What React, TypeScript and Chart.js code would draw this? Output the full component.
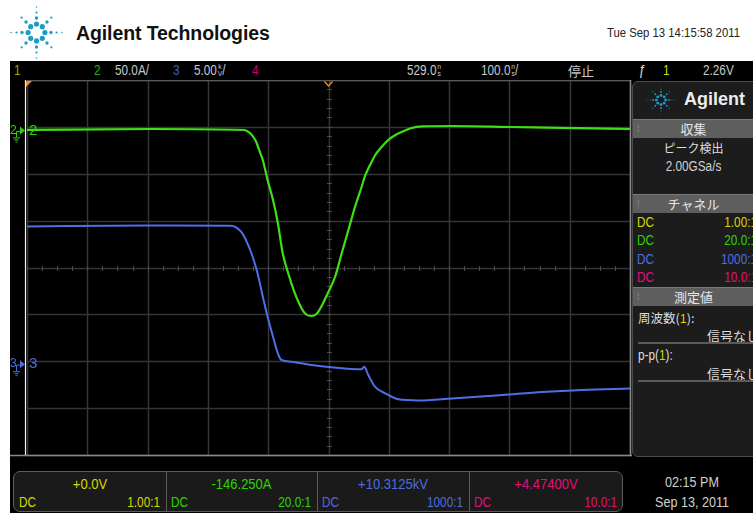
import React, { useEffect, useRef } from "react";
import { Chart, registerables } from "chart.js";

Chart.register(...registerables);

const FONT = '"Liberation Sans Narrow", "Liberation Sans", Arial, "Noto Sans CJK JP", sans-serif';
const BOLD = '"Liberation Sans", Arial, sans-serif';
const CJK = '"Noto Sans CJK JP", sans-serif';
const SQ = 0.84;

// Scope settings
const TIME_CENTER_NS = 529;
const NS_PER_DIV = 100;
const H_DIVS = 10;
const V_DIVS = 8;
const CH2_A_PER_DIV = 50;
const CH2_OFFSET_A = -146.25;
const CH3_KV_PER_DIV = 5;
const CH3_OFFSET_KV = 10.3125;

// Channel 2 (green, current in A)
const greenTimeNs = [29, 234, 389, 398, 403, 409, 414, 420, 428, 437, 445, 453, 462, 473, 484, 492, 501, 509, 517, 528, 540, 551, 562, 573, 584, 589, 595, 601, 606, 617, 628, 640, 651, 667, 684, 734, 834, 917, 1029];
const greenCurrentA = [0.5, 1.5, 0.4, -2.4, -5.9, -12.1, -20.9, -31.6, -52.9, -74.3, -98.8, -130.8, -152.1, -173.4, -189.4, -196.4, -198.0, -195.9, -188.1, -173.4, -156.1, -130.8, -106.3, -81.4, -60.1, -49.7, -40.6, -33.2, -26.8, -17.7, -10.3, -4.9, -1.4, 2.6, 4.2, 4.7, 3.6, 2.6, 1.5];

// Channel 3 (blue, voltage in kV)
const blueTimeNs = [29, 234, 367, 384, 392, 401, 409, 414, 420, 428, 437, 445, 451, 467, 501, 534, 584, 588, 595, 606, 623, 645, 678, 734, 817, 884, 951, 1029];
const blueVoltageKv = [14.69, 14.79, 14.77, 14.13, 13.25, 11.86, 10.26, 8.98, 7.21, 5.06, 2.93, 1.16, 0.45, 0.26, -0.09, -0.33, -0.55, -0.27, -1.15, -2.4, -3.11, -3.75, -3.87, -3.66, -3.29, -2.97, -2.75, -2.59];

// Texts
const channelNumbers = ["1", "2", "3", "4"];
const channelScales = ["", "50.0A/", "5.00", ""];
const channelOffsets = ["+0.0V", "-146.250A", "+10.3125kV", "+4.47400V"];
const probeRatios = ["1.00:1", "20.0:1", "1000:1", "10.0:1"];
const chColors = ["#d6d600", "#2ed400", "#4c6ce0", "#e0107a"];
const chDim = ["#a8a800", "#22b000", "#3c5cc8", "#c8006e"];

const GREEN = "#3ee014";
const BLUE = "#4f6fe6";

const X_MIN = TIME_CENTER_NS - (NS_PER_DIV * H_DIVS) / 2;
const X_MAX = TIME_CENTER_NS + (NS_PER_DIV * H_DIVS) / 2;
const Y2_MIN = CH2_OFFSET_A - (CH2_A_PER_DIV * V_DIVS) / 2;
const Y2_MAX = CH2_OFFSET_A + (CH2_A_PER_DIV * V_DIVS) / 2;
const Y3_MIN = CH3_OFFSET_KV - (CH3_KV_PER_DIV * V_DIVS) / 2;
const Y3_MAX = CH3_OFFSET_KV + (CH3_KV_PER_DIV * V_DIVS) / 2;

function line(ctx: CanvasRenderingContext2D, x1: number, y1: number, x2: number, y2: number) {
  ctx.beginPath();
  ctx.moveTo(x1, y1);
  ctx.lineTo(x2, y2);
  ctx.stroke();
}

function drawGroundMarker(ctx: CanvasRenderingContext2D, left: number, py: number, label: string, color: string) {
  ctx.save();
  ctx.fillStyle = color;
  ctx.strokeStyle = color;
  ctx.lineWidth = 1;
  ctx.font = `12px ${FONT}`;
  ctx.textBaseline = "middle";
  ctx.fillText(label, 0, py);
  line(ctx, 6.5, py + 1, 6.5, py + 7);
  line(ctx, 6.5, py + 1, 10, py + 1);
  line(ctx, 3, py + 7.5, 10, py + 7.5);
  line(ctx, 4.5, py + 9.5, 8.5, py + 9.5);
  line(ctx, 5.5, py + 11.5, 7.5, py + 11.5);
  ctx.beginPath();
  ctx.moveTo(10, py - 4);
  ctx.lineTo(15, py);
  ctx.lineTo(10, py + 4);
  ctx.closePath();
  ctx.fill();
  ctx.font = `15px ${FONT}`;
  ctx.fillText(label, left + 2, py);
  ctx.restore();
}

const scopePlugin = {
  id: "scope",
  beforeDraw(chart: any) {
    const { ctx, chartArea: a, scales } = chart;
    const x = scales.x;
    const y2 = scales.y2;
    ctx.save();
    ctx.fillStyle = "#000";
    ctx.fillRect(0, 0, chart.width, chart.height);
    ctx.strokeStyle = "#353535";
    ctx.lineWidth = 1.5;
    for (let i = 0; i <= H_DIVS; i++) {
      const px = Math.round(x.getPixelForValue(X_MIN + i * NS_PER_DIV)) + 0.5;
      line(ctx, px, a.top, px, a.bottom);
    }
    for (let i = 0; i <= V_DIVS; i++) {
      const py = Math.round(y2.getPixelForValue(Y2_MIN + i * CH2_A_PER_DIV)) + 0.5;
      line(ctx, a.left, py, a.right, py);
    }
    ctx.strokeStyle = "#4a4a4a";
    ctx.lineWidth = 1;
    const cy = Math.round(y2.getPixelForValue(CH2_OFFSET_A)) + 0.5;
    const cx = Math.round(x.getPixelForValue(TIME_CENTER_NS)) + 0.5;
    for (let t = X_MIN; t <= X_MAX + 0.01; t += NS_PER_DIV / 4) {
      const px = Math.round(x.getPixelForValue(t)) + 0.5;
      line(ctx, px, cy - 2.5, px, cy + 2.5);
    }
    for (let v = Y2_MIN; v <= Y2_MAX + 0.01; v += CH2_A_PER_DIV / 5) {
      const py = Math.round(y2.getPixelForValue(v)) + 0.5;
      line(ctx, cx - 2.5, py, cx + 2.5, py);
    }
    ctx.restore();
  },
  afterDatasetsDraw(chart: any) {
    const { ctx, chartArea: a, scales } = chart;
    const x = scales.x;
    ctx.save();
    ctx.lineWidth = 1.5;
    ctx.strokeStyle = "#5a5a5a";
    line(ctx, a.left, a.top + 0.5, a.right, a.top + 0.5);
    ctx.strokeStyle = "#8a8a8a";
    line(ctx, 0, a.bottom + 0.5, chart.width, a.bottom + 0.5);
    line(ctx, a.right + 0.5, a.top, a.right + 0.5, a.bottom);
    ctx.strokeStyle = "#6a6a6a";
    line(ctx, a.right + 3.5, a.top, a.right + 3.5, a.bottom);
    ctx.strokeStyle = "#f0f0f0";
    ctx.lineWidth = 1.2;
    line(ctx, a.left - 1.5, a.top, a.left - 1.5, a.bottom);
    ctx.fillStyle = "#ff8c1a";
    ctx.beginPath();
    ctx.moveTo(a.left - 1, a.top + 1);
    ctx.lineTo(a.left + 5, a.top + 1);
    ctx.lineTo(a.left - 1, a.top + 7);
    ctx.closePath();
    ctx.fill();
    const cx = x.getPixelForValue(TIME_CENTER_NS);
    ctx.strokeStyle = "#ff8c1a";
    ctx.lineWidth = 1.2;
    ctx.beginPath();
    ctx.moveTo(cx - 4, a.top + 1.5);
    ctx.lineTo(cx, a.top + 6);
    ctx.lineTo(cx + 4, a.top + 1.5);
    ctx.stroke();
    drawGroundMarker(ctx, a.left, scales.y2.getPixelForValue(0), "2", "#2ed400");
    drawGroundMarker(ctx, a.left, scales.y3.getPixelForValue(0), "3", "#4c6ce0");
    ctx.restore();
  },
};

function Spark({ cx, cy, s }: { cx: number; cy: number; s: number }) {
  const dots: JSX.Element[] = [];
  const straight = [8.4, 14.5, 20, 25.5];
  const diag = [8.2, 14.8, 21];
  const radii = [2.6, 1.7, 1.1, 0.75];
  for (let k = 0; k < 8; k++) {
    const ang = (k * Math.PI) / 4;
    const list = k % 2 === 0 ? straight : diag;
    list.forEach((d, j) => {
      dots.push(
        <circle key={`${k}-${j}`} cx={cx + Math.cos(ang) * d * s} cy={cy + Math.sin(ang) * d * s} r={radii[j] * s} fill="#1e9cc8" />
      );
    });
  }
  return <>{dots}</>;
}

const Stack = ({ a, b }: { a: string; b: string }) => (
  <span style={{ display: "inline-block", fontSize: 8, lineHeight: "7px", verticalAlign: "-1px", textAlign: "center", marginLeft: 1 }}>
    {a}
    <br />
    {b}
  </span>
);

const abs = (l: number, t: number, extra: React.CSSProperties = {}): React.CSSProperties => ({ position: "absolute", left: l, top: t, whiteSpace: "nowrap", ...extra });
const sq = (origin: string): React.CSSProperties => ({ transform: `scaleX(${SQ})`, transformOrigin: origin });

function PanelHeader({ top, text }: { top: number; text: string }) {
  return (
    <div style={abs(0, top, { width: 160, height: 18, background: "#5e5e5e", borderTop: "1px solid #7a7a7a" })}>
      <div style={abs(4, 0, { fontSize: 9, lineHeight: "18px", color: "#9a9a9a", fontFamily: FONT })}>⁞</div>
      <div style={abs(0, 0, { width: 121, textAlign: "center", fontSize: 13, lineHeight: "18px", color: "#e6e6e6", fontFamily: CJK })}>{text}</div>
    </div>
  );
}

export default function App() {
  const ref = useRef<HTMLCanvasElement>(null);

  useEffect(() => {
    const canvas = ref.current!;
    const chart = new Chart(canvas, {
      type: "line",
      data: {
        datasets: [
          {
            data: greenTimeNs.map((t, i) => ({ x: t, y: greenCurrentA[i] })),
            borderColor: GREEN,
            borderWidth: 2.2,
            pointRadius: 0,
            yAxisID: "y2",
            cubicInterpolationMode: "monotone",
          },
          {
            data: blueTimeNs.map((t, i) => ({ x: t, y: blueVoltageKv[i] })),
            borderColor: BLUE,
            borderWidth: 2,
            pointRadius: 0,
            yAxisID: "y3",
            cubicInterpolationMode: "monotone",
          },
        ],
      },
      options: {
        animation: false,
        responsive: false,
        events: [],
        layout: { padding: { left: 17, right: 2, top: 0, bottom: 3 } },
        scales: {
          x: { type: "linear", min: X_MIN, max: X_MAX, display: false },
          y2: { type: "linear", min: Y2_MIN, max: Y2_MAX, display: false },
          y3: { type: "linear", min: Y3_MIN, max: Y3_MAX, display: false },
        },
        plugins: { legend: { display: false }, tooltip: { enabled: false } },
      } as any,
      plugins: [scopePlugin as any],
    });
    return () => chart.destroy();
  }, []);

  const txt = (extra: React.CSSProperties = {}): React.CSSProperties => ({ fontFamily: FONT, fontSize: 14, color: "#c8c8c8", lineHeight: "19px", ...sq("left"), ...extra });

  const cellW = [152, 151, 152, 154];
  const cellL = [0, 152, 303, 455];

  return (
    <div style={{ position: "fixed", left: 0, top: 0, width: 753, height: 513, overflow: "hidden", background: "#fff" }}>
      {/* header */}
      <svg style={abs(0, 0)} width={80} height={62}>
        <Spark cx={36.5} cy={32.5} s={1} />
      </svg>
      <div style={abs(76, 20, { fontFamily: BOLD, fontWeight: 700, fontSize: 19.5, color: "#111", letterSpacing: -0.1, lineHeight: "26px" })}>Agilent Technologies</div>
      <div style={abs(540, 25, { width: 200, textAlign: "right", fontFamily: FONT, fontSize: 13.5, color: "#222", lineHeight: "16px", ...sq("right") })}>Tue Sep 13 14:15:58 2011</div>

      {/* scope screen */}
      <div style={abs(10, 61, { width: 760, height: 460, background: "#000" })} />

      {/* status bar */}
      <div style={abs(14, 61, txt({ color: chDim[0] }))}>{channelNumbers[0]}</div>
      <div style={abs(94, 61, txt({ color: chDim[1] }))}>{channelNumbers[1]}</div>
      <div style={abs(115, 61, txt())}>{channelScales[1]}</div>
      <div style={abs(173, 61, txt({ color: chDim[2] }))}>{channelNumbers[2]}</div>
      <div style={abs(194, 61, txt())}>
        {channelScales[2]}
        <Stack a="k" b="V" />/
      </div>
      <div style={abs(252, 61, txt({ color: chDim[3] }))}>{channelNumbers[3]}</div>
      <div style={abs(407, 61, txt())}>
        529.0
        <Stack a="n" b="s" />
      </div>
      <div style={abs(481, 61, txt())}>
        100.0
        <Stack a="n" b="s" />/
      </div>
      <div style={abs(568, 61, txt({ fontFamily: CJK, fontSize: 13, transform: "none" }))}>停止</div>
      <div style={abs(639, 61, txt({ color: "#e8e8e8" }))}>ƒ</div>
      <div style={abs(663, 61, txt({ color: chColors[0] }))}>1</div>
      <div style={abs(703, 61, txt())}>2.26V</div>

      {/* graticule */}
      <canvas ref={ref} width={622} height={378} style={abs(10, 80, { width: 622, height: 378 })} />

      {/* right panel */}
      <div style={abs(632, 81, { width: 160, height: 374, background: "#1c1c1c", border: "1px solid #4c4c4c", borderRadius: 6, overflow: "hidden" })}>
        <svg style={abs(0, 0)} width={50} height={36}>
          <Spark cx={28} cy={18} s={0.55} />
        </svg>
        <div style={abs(51, 5, { fontFamily: BOLD, fontWeight: 700, fontSize: 18, color: "#ececec", lineHeight: "24px" })}>Agilent</div>
        <PanelHeader top={37} text="収集" />
        <div style={abs(0, 56, { width: 121, textAlign: "center", fontFamily: CJK, fontSize: 12, color: "#dcdcdc", lineHeight: "19px" })}>ピーク検出</div>
        <div style={abs(0, 75, { width: 121, textAlign: "center", fontFamily: FONT, fontSize: 14, color: "#d0d0d0", lineHeight: "19px", ...sq("center") })}>2.00GSa/s</div>
        <PanelHeader top={112} text="チャネル" />
        {probeRatios.map((r, i) => (
          <React.Fragment key={r}>
            <div style={abs(4, 131 + i * 18.3, { fontFamily: FONT, fontSize: 14, color: chColors[i], lineHeight: "19px", ...sq("left") })}>DC</div>
            <div style={abs(44, 131 + i * 18.3, { width: 80, textAlign: "right", fontFamily: FONT, fontSize: 14, color: chColors[i], lineHeight: "19px", ...sq("right") })}>{r}</div>
          </React.Fragment>
        ))}
        <PanelHeader top={205} text="測定値" />
        <div style={abs(5, 226, { fontFamily: CJK, fontSize: 12.5, color: "#dcdcdc", lineHeight: "19px" })}>
          周波数(<span style={{ color: chColors[0], fontFamily: FONT }}>1</span>):
        </div>
        <div style={abs(70, 244, { width: 56, textAlign: "right", fontFamily: CJK, fontSize: 13, color: "#dcdcdc", lineHeight: "19px" })}>信号なし</div>
        <div style={abs(5, 260, { width: 160, height: 2, background: "#5a5a5a" })} />
        <div style={abs(5, 264, { fontFamily: FONT, fontSize: 14, color: "#dcdcdc", lineHeight: "19px", ...sq("left") })}>
          p-p(<span style={{ color: chColors[0] }}>1</span>):
        </div>
        <div style={abs(70, 282, { width: 56, textAlign: "right", fontFamily: CJK, fontSize: 13, color: "#dcdcdc", lineHeight: "19px" })}>信号なし</div>
        <div style={abs(5, 298, { width: 160, height: 2, background: "#5a5a5a" })} />
      </div>

      {/* bottom channel boxes */}
      <div style={abs(13, 471, { width: 608, height: 39, background: "#1a1a1a", border: "1px solid #5c5c5c", borderRadius: 7, overflow: "hidden" })}>
        {channelOffsets.map((o, i) => (
          <React.Fragment key={o}>
            {i > 0 && <div style={abs(cellL[i], 0, { width: 1, height: 39, background: "#5c5c5c" })} />}
            <div style={abs(cellL[i], 3, { width: cellW[i], textAlign: "center", fontFamily: FONT, fontSize: 15.5, color: chColors[i], lineHeight: "18px", ...sq("center") })}>{o}</div>
            <div style={abs(cellL[i] + 5, 21, { fontFamily: FONT, fontSize: 14, color: chColors[i], lineHeight: "18px", ...sq("left") })}>DC</div>
            <div style={abs(cellL[i], 21, { width: cellW[i] - 6, textAlign: "right", fontFamily: FONT, fontSize: 14, color: chColors[i], lineHeight: "18px", ...sq("right") })}>{probeRatios[i]}</div>
          </React.Fragment>
        ))}
      </div>
      <div style={abs(622, 472, { width: 140, textAlign: "center", fontFamily: FONT, fontSize: 15, color: "#d0d0d0", lineHeight: "19px", ...sq("center") })}>02:15 PM</div>
      <div style={abs(622, 492, { width: 140, textAlign: "center", fontFamily: FONT, fontSize: 15, color: "#d0d0d0", lineHeight: "19px", ...sq("center") })}>Sep 13, 2011</div>
    </div>
  );
}
